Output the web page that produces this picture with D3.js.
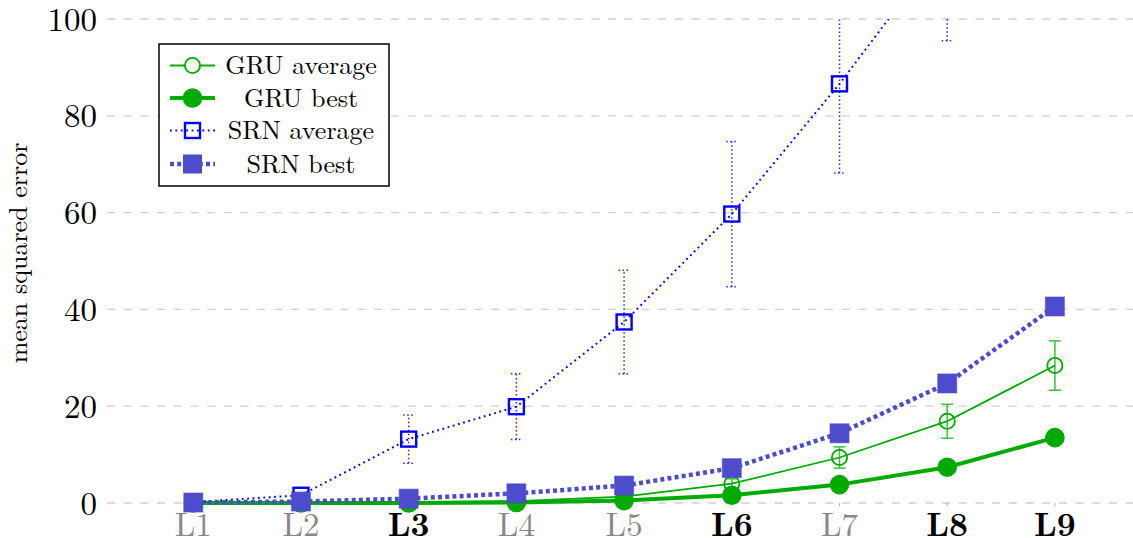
<!DOCTYPE html>
<html><head><meta charset="utf-8">
<script src="https://cdn.jsdelivr.net/npm/d3@7"></script>
<style>html,body{margin:0;padding:0;background:#fff;}svg{display:block;}</style>
</head><body>
<svg id="chart" width="1133" height="538"></svg>
<script>
const categories = ["L1","L2","L3","L4","L5","L6","L7","L8","L9"];
const boldCategories = ["L3","L6","L8","L9"];
const yTicks = [0,20,40,60,80,100];
const seriesNames = ["GRU average","GRU best","SRN average","SRN best"];
const gruAvg = [0.05,0.1,0.2,0.4,1.3,4.0,9.4,16.9,28.4];
const gruAvgErr = [0,0,0,0.1,0.3,1.0,2.2,3.5,5.1];
const gruBest = [0,0,0,0.1,0.5,1.6,3.8,7.4,13.5];
const srnAvg = [0.2,1.6,13.2,19.9,37.4,59.7,86.6,116,150];
const srnAvgErr = [0.1,0.4,5.0,6.8,10.7,15.0,18.4,20.5,25];
const srnBest = [0.1,0.3,0.9,2.0,3.6,7.2,14.4,24.7,40.6];

const FONT = '"Latin Modern Roman", "Liberation Serif", serif';
const svg = d3.select("#chart");
const x = d3.scaleLinear().domain([1,9]).range([193.3,1054.9]);
const y = d3.scaleLinear().domain([0,100]).range([503,19]);
const xi = i => x(i+1);

const green = "#00aa00", blue = "#0000ff", slate = "#4c4ccc";

// grid
svg.append("g").selectAll("line").data(yTicks).join("line")
  .attr("x1",107).attr("x2",1133).attr("y1",d=>y(d)).attr("y2",d=>y(d))
  .attr("stroke","#d0d0d0").attr("stroke-width",1.3).attr("stroke-dasharray","8,8.7");

// y tick labels
svg.append("g").selectAll("text").data(yTicks).join("text")
  .attr("x",97).attr("y",d=>y(d)+11.5).attr("text-anchor","end")
  .attr("font-family",FONT).attr("font-size",33).attr("fill","#000").text(d=>d);

// y label
svg.append("text").attr("transform","translate(27,253) rotate(-90)")
  .attr("text-anchor","middle").attr("font-family",FONT).attr("font-size",26)
  .attr("fill","#000").text("mean squared error");

// x ticks
svg.append("g").selectAll("line").data(categories).join("line")
  .attr("x1",(d,i)=>xi(i)).attr("x2",(d,i)=>xi(i)).attr("y1",503).attr("y2",506)
  .attr("stroke","#aaa").attr("stroke-width",1);
svg.append("g").selectAll("text").data(categories).join("text")
  .attr("x",(d,i)=>xi(i)).attr("y",536).attr("text-anchor","middle")
  .attr("font-family",FONT).attr("font-size",33)
  .attr("font-weight",d=>boldCategories.includes(d)?"bold":"normal")
  .attr("fill",d=>boldCategories.includes(d)?"#000":"#888").text(d=>d);

// clip
svg.append("defs").append("clipPath").attr("id","clip")
  .append("rect").attr("x",0).attr("y",19).attr("width",1133).attr("height",519);
const plot = svg.append("g").attr("clip-path","url(#clip)");
const line = d3.line().x((d,i)=>xi(i)).y(d=>y(d));

// GRU average
const gA = plot.append("g");
gA.append("path").datum(gruAvg).attr("d",line).attr("fill","none").attr("stroke",green).attr("stroke-width",1.8);
gruAvg.forEach((v,i)=>{
  const e = gruAvgErr[i]; if(e<=0) return;
  const g = gA.append("g").attr("stroke",green).attr("stroke-width",1.5).attr("opacity",0.75);
  g.append("line").attr("x1",xi(i)).attr("x2",xi(i)).attr("y1",y(v-e)).attr("y2",y(v+e));
  g.append("line").attr("x1",xi(i)-6).attr("x2",xi(i)+6).attr("y1",y(v-e)).attr("y2",y(v-e));
  g.append("line").attr("x1",xi(i)-6).attr("x2",xi(i)+6).attr("y1",y(v+e)).attr("y2",y(v+e));
});
gA.selectAll("circle").data(gruAvg).join("circle").attr("cx",(d,i)=>xi(i)).attr("cy",d=>y(d))
  .attr("r",7.6).attr("fill","none").attr("stroke",green).attr("stroke-width",1.8);

// GRU best
const gB = plot.append("g");
gB.append("path").datum(gruBest).attr("d",line).attr("fill","none").attr("stroke",green).attr("stroke-width",4);
gB.selectAll("circle").data(gruBest).join("circle").attr("cx",(d,i)=>xi(i)).attr("cy",d=>y(d))
  .attr("r",9.8).attr("fill",green);

// SRN average
const sA = plot.append("g");
sA.append("path").datum(srnAvg).attr("d",line).attr("fill","none").attr("stroke",blue)
  .attr("stroke-width",2).attr("stroke-dasharray","1.8,3.6");
srnAvg.forEach((v,i)=>{
  const e = srnAvgErr[i]; if(e<1) return;
  const g = sA.append("g").attr("stroke",blue).attr("stroke-width",1.5).attr("stroke-dasharray","1.5,2.5").attr("opacity",0.85);
  g.append("line").attr("x1",xi(i)).attr("x2",xi(i)).attr("y1",y(v-e)).attr("y2",y(v+e));
  g.append("line").attr("x1",xi(i)-5.5).attr("x2",xi(i)+5.5).attr("y1",y(v-e)).attr("y2",y(v-e));
  g.append("line").attr("x1",xi(i)-5.5).attr("x2",xi(i)+5.5).attr("y1",y(v+e)).attr("y2",y(v+e));
});
sA.selectAll("rect").data(srnAvg).join("rect").attr("x",(d,i)=>xi(i)-7.5).attr("y",d=>y(d)-7.5)
  .attr("width",15).attr("height",15).attr("fill","none").attr("stroke",blue).attr("stroke-width",2.4);

// SRN best
const sB = plot.append("g");
sB.append("path").datum(srnBest).attr("d",line).attr("fill","none").attr("stroke",slate)
  .attr("stroke-width",4.5).attr("stroke-dasharray","4,3.2");
sB.selectAll("rect").data(srnBest).join("rect").attr("x",(d,i)=>xi(i)-9.5).attr("y",d=>y(d)-9.5)
  .attr("width",19).attr("height",19).attr("fill",slate).attr("stroke",slate).attr("stroke-opacity",0.5).attr("stroke-width",1.2);

// legend
const lg = svg.append("g");
lg.append("rect").attr("x",159).attr("y",44).attr("width",230).attr("height",142)
  .attr("fill","#fff").attr("stroke","#000").attr("stroke-width",1.5);
const rowsY = [65.5,98,130.5,164];
const lx1 = 170, lx2 = 215, lm = 192.5;
lg.append("line").attr("x1",lx1).attr("x2",lx2).attr("y1",rowsY[0]).attr("y2",rowsY[0]).attr("stroke",green).attr("stroke-width",1.8);
lg.append("circle").attr("cx",lm).attr("cy",rowsY[0]).attr("r",7.6).attr("fill","#fff").attr("stroke",green).attr("stroke-width",1.8);
lg.append("line").attr("x1",lx1).attr("x2",lx2).attr("y1",rowsY[1]).attr("y2",rowsY[1]).attr("stroke",green).attr("stroke-width",4);
lg.append("circle").attr("cx",lm).attr("cy",rowsY[1]).attr("r",9.8).attr("fill",green);
lg.append("line").attr("x1",lx1).attr("x2",lx2).attr("y1",rowsY[2]).attr("y2",rowsY[2]).attr("stroke",blue).attr("stroke-width",2).attr("stroke-dasharray","1.8,3.6");
lg.append("rect").attr("x",lm-7.5).attr("y",rowsY[2]-7.5).attr("width",15).attr("height",15).attr("fill","none").attr("stroke",blue).attr("stroke-width",2.4);
lg.append("line").attr("x1",lx1).attr("x2",lx2).attr("y1",rowsY[3]).attr("y2",rowsY[3]).attr("stroke",slate).attr("stroke-width",4.5).attr("stroke-dasharray","4,3.2");
lg.append("rect").attr("x",lm-9.5).attr("y",rowsY[3]-9.5).attr("width",19).attr("height",19).attr("fill",slate);
lg.selectAll("text.lab").data(seriesNames).join("text").attr("class","lab")
  .attr("x",301).attr("y",(d,i)=>rowsY[i]+8.5).attr("text-anchor","middle")
  .attr("font-family",FONT).attr("font-size",26).attr("fill","#000").text(d=>d);
</script>
</body></html>
